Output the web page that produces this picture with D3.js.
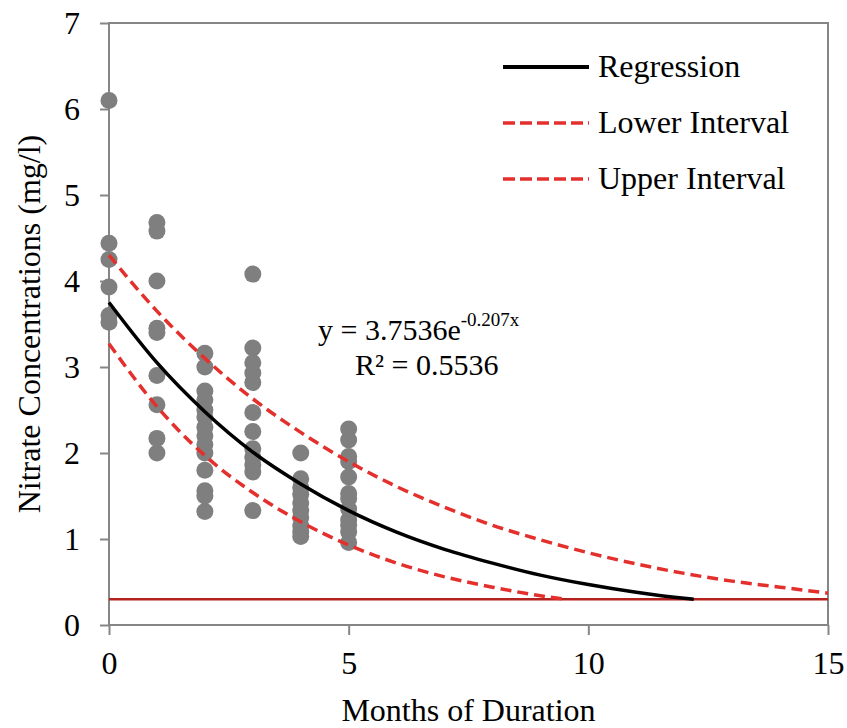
<!DOCTYPE html>
<html>
<head>
<meta charset="utf-8">
<script src="https://cdn.jsdelivr.net/npm/d3@7"></script>
<style>
  body { margin: 0; background: #fff; }
  text { font-family: "Liberation Serif", "Times New Roman", serif; fill: #000; }
</style>
</head>
<body>
<script>
// months of duration and the nitrate readings (mg/l) taken at each
const months = [0, 1, 2, 3, 4, 5];
const nitrate = [
  [6.1, 4.44, 4.25, 3.93, 3.6, 3.52],
  [4.68, 4.58, 4.0, 3.45, 3.4, 2.9, 2.56, 2.17, 2.0],
  [3.16, 3.0, 2.72, 2.62, 2.5, 2.42, 2.3, 2.2, 2.1, 2.0, 1.8, 1.56, 1.5, 1.32],
  [4.08, 3.22, 3.05, 2.93, 2.82, 2.47, 2.25, 2.05, 1.95, 1.86, 1.78, 1.33],
  [2.0, 1.7, 1.6, 1.52, 1.42, 1.33, 1.25, 1.15, 1.08, 1.03],
  [2.28, 2.15, 1.96, 1.9, 1.72, 1.53, 1.47, 1.35, 1.22, 1.16, 1.08, 0.96]
];

// curves
const regX = [0, 1, 2, 3, 4, 5, 6, 7, 8, 9, 10, 11, 12, 12.2];
const regY = [3.75, 3.05, 2.48, 2.01, 1.64, 1.33, 1.08, 0.88, 0.72, 0.58, 0.47, 0.38, 0.31, 0.30];
const lowX = [0, 1, 2, 3, 4, 5, 6, 7, 8, 9, 9.5];
const lowY = [3.27, 2.54, 1.97, 1.54, 1.20, 0.93, 0.72, 0.56, 0.44, 0.34, 0.30];
const upX = [0, 1, 2, 3, 4, 5, 6, 7, 8, 9, 10, 11, 12, 13, 14, 15];
const upY = [4.30, 3.65, 3.10, 2.63, 2.24, 1.90, 1.61, 1.37, 1.16, 0.99, 0.84, 0.71, 0.60, 0.51, 0.44, 0.37];
const limit = 0.3;

const xTicks = [0, 5, 10, 15];
const legendItems = ["Regression", "Lower Interval", "Upper Interval"];

const width = 847, height = 728;
const margin = {top: 23, right: 19, bottom: 103, left: 109};
const red = "#e3302c", gray = "#868686";

const x = d3.scaleLinear([0, 15], [margin.left, width - margin.right]);
const y = d3.scaleLinear([0, 7], [height - margin.bottom, margin.top]);

const svg = d3.select("body").append("svg")
    .attr("width", width)
    .attr("height", height);

// plot frame
svg.append("rect")
    .attr("x", x(0))
    .attr("y", y(7))
    .attr("width", x(15) - x(0))
    .attr("height", y(0) - y(7))
    .attr("fill", "none")
    .attr("stroke", gray)
    .attr("stroke-width", 2);

svg.append("g")
    .attr("transform", `translate(${x(0)},0)`)
    .call(d3.axisLeft(y).ticks(7).tickSize(9).tickPadding(20))
    .call(g => g.select(".domain").remove())
    .call(g => g.selectAll("line").attr("stroke", gray).attr("stroke-width", 2))
    .call(g => g.selectAll("text").attr("font-size", 32).attr("font-family", null));

svg.append("g")
    .attr("transform", `translate(0,${y(0)})`)
    .call(d3.axisBottom(x).tickValues(xTicks).tickSize(10).tickPadding(16))
    .call(g => g.select(".domain").remove())
    .call(g => g.selectAll("line").attr("stroke", gray).attr("stroke-width", 2))
    .call(g => g.selectAll("text").attr("font-size", 32).attr("font-family", null));

svg.append("text")
    .attr("transform", `translate(40,${(y(0) + y(7)) / 2}) rotate(-90)`)
    .attr("text-anchor", "middle")
    .attr("font-size", 32)
    .text("Nitrate Concentrations (mg/l)");

svg.append("text")
    .attr("x", (x(0) + x(15)) / 2)
    .attr("y", 721)
    .attr("text-anchor", "middle")
    .attr("font-size", 32)
    .text("Months of Duration");

// limit line
svg.append("line")
    .attr("x1", x(0))
    .attr("x2", x(15))
    .attr("y1", y(limit))
    .attr("y2", y(limit))
    .attr("stroke", "#b3221d")
    .attr("stroke-width", 2.5);

svg.append("g")
    .attr("fill", "#7f7f7f")
  .selectAll("circle")
  .data(d3.merge(months.map((m, i) => nitrate[i].map(v => [m, v]))))
  .join("circle")
    .attr("cx", d => x(d[0]))
    .attr("cy", d => y(d[1]))
    .attr("r", 8.5);

const line = d3.line()
    .x(d => x(d[0]))
    .y(d => y(d[1]))
    .curve(d3.curveMonotoneX);

svg.append("path")
    .attr("d", line(d3.zip(lowX, lowY)))
    .attr("fill", "none")
    .attr("stroke", red)
    .attr("stroke-width", 3.5)
    .attr("stroke-dasharray", "11,6");

svg.append("path")
    .attr("d", line(d3.zip(upX, upY)))
    .attr("fill", "none")
    .attr("stroke", red)
    .attr("stroke-width", 3.5)
    .attr("stroke-dasharray", "11,6");

svg.append("path")
    .attr("d", line(d3.zip(regX, regY)))
    .attr("fill", "none")
    .attr("stroke", "#000")
    .attr("stroke-width", 3.5);

// equation label
const eq = svg.append("text").attr("font-size", 30);
eq.append("tspan").attr("x", 318).attr("y", 340).text("y = 3.7536e");
eq.append("tspan").attr("dy", -14).attr("font-size", 19).text("-0.207x");
svg.append("text")
    .attr("x", 355)
    .attr("y", 375)
    .attr("font-size", 30)
    .text("R² = 0.5536");

// legend
const legend = svg.append("g")
  .selectAll("g")
  .data(legendItems)
  .join("g")
    .attr("transform", (d, i) => `translate(503,${67 + i * 56})`);

legend.append("line")
    .attr("x2", 86)
    .attr("stroke", (d, i) => i ? red : "#000")
    .attr("stroke-width", (d, i) => i ? 3.5 : 4)
    .attr("stroke-dasharray", (d, i) => i ? "12,5" : null);

legend.append("text")
    .attr("x", 95)
    .attr("y", 10)
    .attr("font-size", 32)
    .text(d => d);
</script>
</body>
</html>
